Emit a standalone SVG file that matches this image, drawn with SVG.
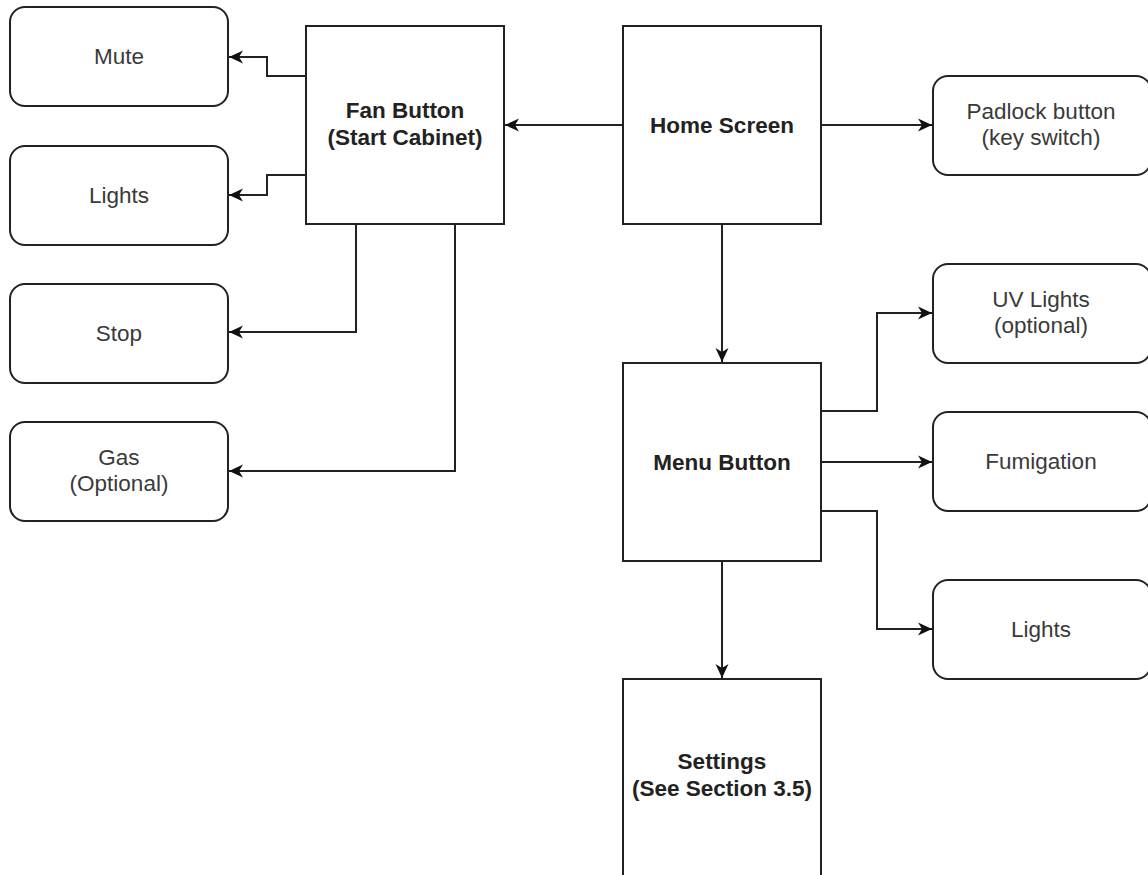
<svg xmlns="http://www.w3.org/2000/svg" width="1148" height="875" viewBox="0 0 1148 875">
<defs>
<style>
.box{fill:#fff;stroke:#222;stroke-width:2}
.rbox{fill:#fff;stroke:#222;stroke-width:2}
.edge{fill:none;stroke:#222;stroke-width:2}
.t{font-family:"Liberation Sans",Arial,sans-serif;font-size:22.5px;fill:#3a3a3a;text-anchor:middle}
.b{font-family:"Liberation Sans",Arial,sans-serif;font-size:22.5px;font-weight:bold;fill:#222;text-anchor:middle}
</style>
<marker id="arr" markerUnits="userSpaceOnUse" markerWidth="16" markerHeight="14" refX="14" refY="7" orient="auto">
<path d="M0,0.5 L14,7 L0,13.5 L4,7 Z" fill="#111"/>
</marker>
</defs>
<rect width="1148" height="875" fill="#fff"/>
<g id="connectors">
<path class="edge" d="M306,76 H267 V57 H229" marker-end="url(#arr)"/>
<path class="edge" d="M306,175 H267 V195 H229" marker-end="url(#arr)"/>
<path class="edge" d="M356,224 V332 H229" marker-end="url(#arr)"/>
<path class="edge" d="M455,224 V471 H229" marker-end="url(#arr)"/>
<path class="edge" d="M623,125 H505" marker-end="url(#arr)"/>
<path class="edge" d="M820,125 H932" marker-end="url(#arr)"/>
<path class="edge" d="M722,224 V362" marker-end="url(#arr)"/>
<path class="edge" d="M820,411 H877 V313 H932" marker-end="url(#arr)"/>
<path class="edge" d="M820,462 H932" marker-end="url(#arr)"/>
<path class="edge" d="M820,511 H877 V629 H932" marker-end="url(#arr)"/>
<path class="edge" d="M722,560 V678" marker-end="url(#arr)"/>
</g>
<g id="mute"><rect class="rbox" x="10" y="7" width="218" height="99" rx="15"/><text class="t" x="119" y="64">Mute</text></g>
<g id="lights-left"><rect class="rbox" x="10" y="146" width="218" height="99" rx="15"/><text class="t" x="119" y="203">Lights</text></g>
<g id="stop"><rect class="rbox" x="10" y="284" width="218" height="99" rx="15"/><text class="t" x="119" y="341">Stop</text></g>
<g id="gas"><rect class="rbox" x="10" y="422" width="218" height="99" rx="15"/><text class="t" x="119" y="465">Gas</text><text class="t" x="119" y="491">(Optional)</text></g>
<g id="fan-button"><rect class="box" x="306" y="26" width="198" height="198"/><text class="b" x="405" y="118">Fan Button</text><text class="b" x="405" y="145">(Start Cabinet)</text></g>
<g id="home-screen"><rect class="box" x="623" y="26" width="198" height="198"/><text class="b" x="722" y="133">Home Screen</text></g>
<g id="padlock"><rect class="rbox" x="933" y="76" width="218" height="99" rx="15"/><text class="t" x="1041" y="119">Padlock button</text><text class="t" x="1041" y="145">(key switch)</text></g>
<g id="menu-button"><rect class="box" x="623" y="363" width="198" height="198"/><text class="b" x="722" y="470">Menu Button</text></g>
<g id="uv-lights"><rect class="rbox" x="933" y="264" width="218" height="99" rx="15"/><text class="t" x="1041" y="307">UV Lights</text><text class="t" x="1041" y="333">(optional)</text></g>
<g id="fumigation"><rect class="rbox" x="933" y="412" width="218" height="99" rx="15"/><text class="t" x="1041" y="469">Fumigation</text></g>
<g id="lights-right"><rect class="rbox" x="933" y="580" width="218" height="99" rx="15"/><text class="t" x="1041" y="637">Lights</text></g>
<g id="settings"><rect class="box" x="623" y="679" width="198" height="198"/><text class="b" x="722" y="769">Settings</text><text class="b" x="722" y="796">(See Section 3.5)</text></g>
</svg>
